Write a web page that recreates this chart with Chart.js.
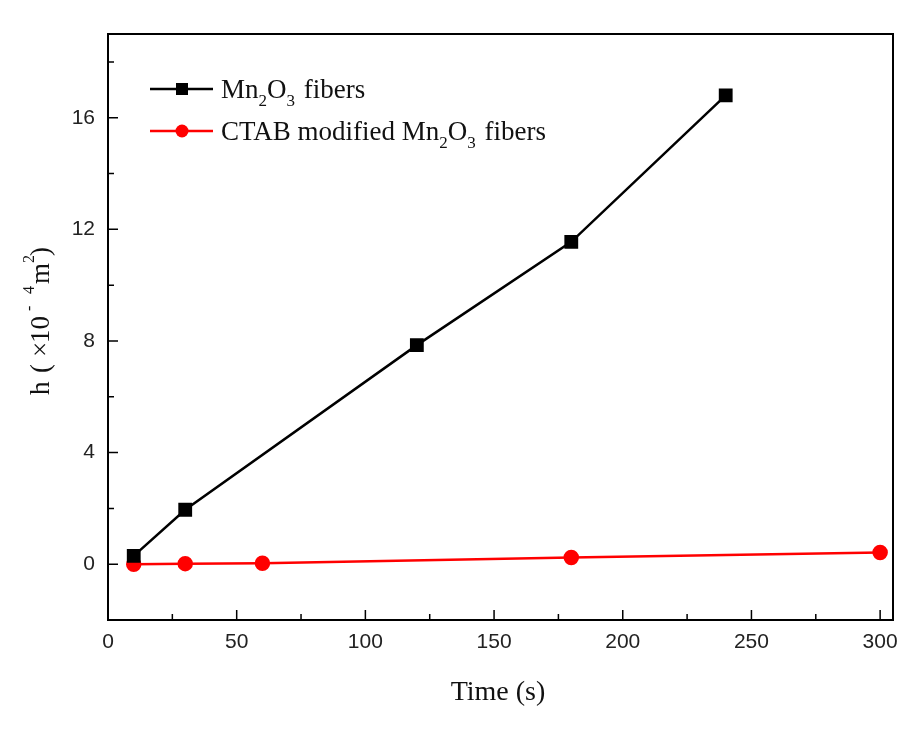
<!DOCTYPE html>
<html>
<head>
<meta charset="utf-8">
<script src="https://cdn.jsdelivr.net/npm/chart.js@4"></script>
<style>
  html, body { margin: 0; padding: 0; background: #fff; }
  #wrap { width: 901px; height: 731px; }
</style>
</head>
<body>
<div id="wrap"><canvas id="chart" width="901" height="731"></canvas></div>
<script>
// data
const mnTime = [10, 30, 120, 180, 240]
const mnHeight = [0.3, 1.95, 7.85, 11.55, 16.8]
const ctabTime = [10, 30, 60, 180, 300]
const ctabHeight = [0, 0.02, 0.03, 0.24, 0.42]

const xMajor = [0, 50, 100, 150, 200, 250, 300]
const yMajor = [0, 4, 8, 12, 16]

const serif = '"Liberation Serif", "Times New Roman", serif'
const sans = '"Liberation Sans", Arial, sans-serif'

const toPoints = (xs, ys) => xs.map((x, i) => ({ x: x, y: ys[i] }))

// text pieces: [text, size, dy, extra gap after]
function drawRich (ctx, parts, x, y) {
    let cx = x
    parts.forEach(p => {
        ctx.font = p[1] + 'px ' + serif
        ctx.fillText(p[0], cx, y + p[2])
        cx += ctx.measureText(p[0]).width + (p[3] || 0)
    })
}

const framePlugin = {
    id: 'frame',
    afterDraw (chart) {
        const ctx = chart.ctx
        const a = chart.chartArea
        const xs = chart.scales.x
        const ys = chart.scales.y
        ctx.save()
        ctx.strokeStyle = '#000'
        ctx.lineWidth = 2
        ctx.strokeRect(a.left, a.top, a.right - a.left, a.bottom - a.top)

        // inward ticks
        ctx.lineWidth = 1.5
        ctx.beginPath()
        for (let v = 25; v <= 300; v += 25) {
            const px = xs.getPixelForValue(v)
            const len = v % 50 === 0 ? 10 : 6
            ctx.moveTo(px, a.bottom)
            ctx.lineTo(px, a.bottom - len)
        }
        for (let v = -2; v <= 18; v += 2) {
            const py = ys.getPixelForValue(v)
            const len = v % 4 === 0 ? 10 : 6
            ctx.moveTo(a.left, py)
            ctx.lineTo(a.left + len, py)
        }
        ctx.stroke()

        // axis titles
        ctx.fillStyle = '#111'
        ctx.textBaseline = 'alphabetic'
        ctx.font = '28px ' + serif
        ctx.textAlign = 'center'
        ctx.fillText('Time (s)', 498, 700)

        // y title, pieces placed along the rotated line (start = screen y)
        ctx.textAlign = 'left'
        ctx.save()
        ctx.translate(49, 0)
        ctx.rotate(-Math.PI / 2)
        const yPieces = [
            ['h', 27, 0, 395], ['(', 27, 0, 373], ['\u00d7', 27, 0, 357], ['10', 27, 0, 343],
            ['-', 16, -15, 311], ['4', 16, -15, 294], ['m', 27, 0, 284],
            ['2', 16, -15, 263], [')', 27, 0, 256]
        ]
        yPieces.forEach(p => {
            ctx.font = p[1] + 'px ' + serif
            ctx.fillText(p[0], -p[3], p[2])
        })
        ctx.restore()

        // legend
        const rows = [
            { color: '#000', square: true, y: 89, parts: [['Mn', 27, 0], ['2', 17, 8], ['O', 27, 0], ['3', 17, 8, 2], [' fibers', 27, 0]] },
            { color: '#ff0000', square: false, y: 131, parts: [['CTAB modified Mn', 27, 0], ['2', 17, 8], ['O', 27, 0], ['3', 17, 8, 2], [' fibers', 27, 0]] }
        ]
        rows.forEach(r => {
            ctx.strokeStyle = r.color
            ctx.fillStyle = r.color
            ctx.lineWidth = 2.5
            ctx.beginPath()
            ctx.moveTo(150, r.y)
            ctx.lineTo(213, r.y)
            ctx.stroke()
            if (r.square) {
                ctx.fillRect(176, r.y - 6, 12, 12)
            } else {
                ctx.beginPath()
                ctx.arc(182, r.y, 6.5, 0, Math.PI * 2)
                ctx.fill()
            }
            ctx.fillStyle = '#111'
            drawRich(ctx, r.parts, 221, r.y + 9)
        })
        ctx.restore()
    }
}

const ctx = document.getElementById('chart')
const chart = new Chart(ctx, {
    type: 'line',
    data: {
        datasets: [
            {
                label: 'Mn2O3 fibers',
                data: toPoints(mnTime, mnHeight),
                borderColor: '#000',
                backgroundColor: '#000',
                borderWidth: 2.5,
                pointStyle: 'rect',
                pointRadius: 8,
                lineTension: 0
            },
            {
                label: 'CTAB modified Mn2O3 fibers',
                data: toPoints(ctabTime, ctabHeight),
                borderColor: '#ff0000',
                backgroundColor: '#ff0000',
                borderWidth: 2.5,
                pointStyle: 'circle',
                pointRadius: 6.5,
                lineTension: 0
            }
        ]
    },
    options: {
        responsive: false,
        animation: false,
        layout: { autoPadding: false, padding: { left: 0, top: 34, right: 8, bottom: 0 } },
        plugins: {
            legend: { display: false },
            tooltip: { enabled: false }
        },
        scales: {
            x: {
                type: 'linear',
                min: 0,
                max: 305,
                afterFit: s => { s.height = 111; s.paddingLeft = 0; s.paddingRight = 0 },
                afterBuildTicks: s => { s.ticks = xMajor.map(v => ({ value: v })) },
                grid: { display: false, drawTicks: false },
                border: { display: false },
                ticks: {
                    padding: 10,
                    color: '#222',
                    font: { family: sans, size: 21 },
                    maxRotation: 0
                }
            },
            y: {
                type: 'linear',
                min: -2,
                max: 19,
                afterFit: s => { s.width = 108 },
                afterBuildTicks: s => { s.ticks = yMajor.map(v => ({ value: v })) },
                grid: { display: false, drawTicks: false },
                border: { display: false },
                ticks: {
                    padding: 13,
                    color: '#222',
                    font: { family: sans, size: 21 }
                }
            }
        }
    },
    plugins: [framePlugin]
})
</script>
</body>
</html>
